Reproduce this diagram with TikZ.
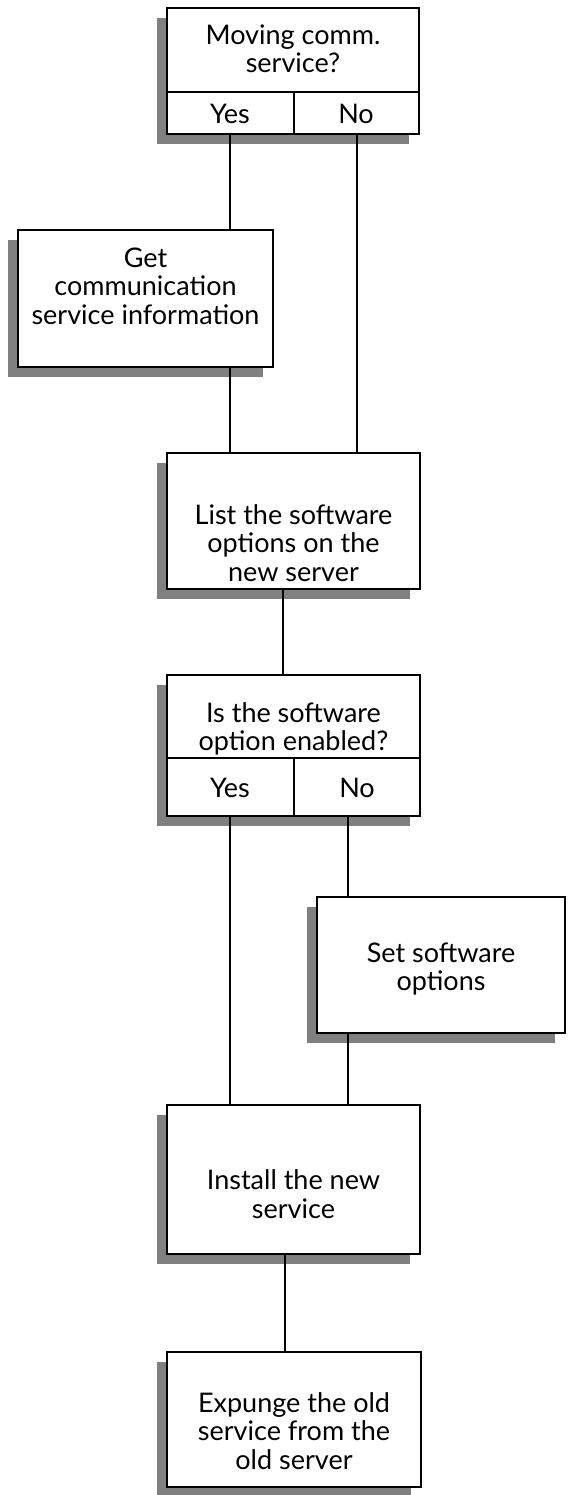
\documentclass[tikz,border=0pt]{standalone}
\usepackage{fontspec}
\setmainfont{Lato}
\usetikzlibrary{shadows}
\begin{document}
\begin{tikzpicture}[x=1pt,y=-1pt,
  every node/.style={inner sep=0pt,outer sep=0pt},
  box/.style={draw,line width=1.4pt,fill=white,rectangle,
    drop shadow={shadow xshift=-10pt,shadow yshift=-10pt,opacity=1,fill=black!50}},
  label/.style={align=center,font=\fontsize{27}{28.5}\selectfont},
  link/.style={line width=1.4pt}]
\useasboundingbox (0,0) rectangle (567,1495);

% boxes
\node[box,minimum width=252pt,minimum height=126pt] (q1) at (293,71) {};
\node[box,minimum width=255pt,minimum height=137pt] (info) at (145.5,298.5) {};
\node[box,minimum width=253pt,minimum height=136pt] (list) at (293.5,521) {};
\node[box,minimum width=253pt,minimum height=141pt] (q2) at (293.5,745.5) {};
\node[box,minimum width=248pt,minimum height=136pt] (set) at (441,965) {};
\node[box,minimum width=253pt,minimum height=149pt] (inst) at (293.5,1179.5) {};
\node[box,minimum width=254pt,minimum height=135pt] (exp) at (294,1419.5) {};

% answer rows of the two questions
\coordinate (d1) at (294,92);
\coordinate (d2) at (294,758);
\draw[link] (q1.west |- d1) -- (q1.east |- d1);
\draw[link] (d1) -- (d1 |- q1.south);
\draw[link] (q2.west |- d2) -- (q2.east |- d2);
\draw[link] (d2) -- (d2 |- q2.south);

% texts
\node[label] at (293,49) {Moving comm.\\service?};
\node[label] (y1) at (230,114) {Yes};
\node[label] (n1) at (356,114) {No};
\node[label] at (145.5,286) {Get\\communication\\service information};
\node[label] at (293.5,543) {List the software\\options on the\\new server};
\node[label] at (293.5,729) {Is the software\\option enabled?};
\node[label] (y2) at (230,788) {Yes};
\node[label] (n2) at (357,788) {No};
\node[label] at (441,969) {Set software\\options};
\node[label] at (293.5,1194) {Install the new\\service};
\node[label] at (294,1431) {Expunge the old\\service from the\\old server};

% connector columns
\coordinate (cA) at (230,0);
\coordinate (cB) at (357,0);
\coordinate (cC) at (283,0);
\coordinate (cD) at (348,0);
\coordinate (cE) at (285,0);

\draw[link] (q1.south -| cA) -- (info.north -| cA);
\draw[link] (q1.south -| cB) -- (list.north -| cB);
\draw[link] (info.south -| cA) -- (list.north -| cA);
\draw[link] (list.south -| cC) -- (q2.north -| cC);
\draw[link] (q2.south -| cA) -- (inst.north -| cA);
\draw[link] (q2.south -| cD) -- (set.north -| cD);
\draw[link] (set.south -| cD) -- (inst.north -| cD);
\draw[link] (inst.south -| cE) -- (exp.north -| cE);
\end{tikzpicture}
\end{document}
